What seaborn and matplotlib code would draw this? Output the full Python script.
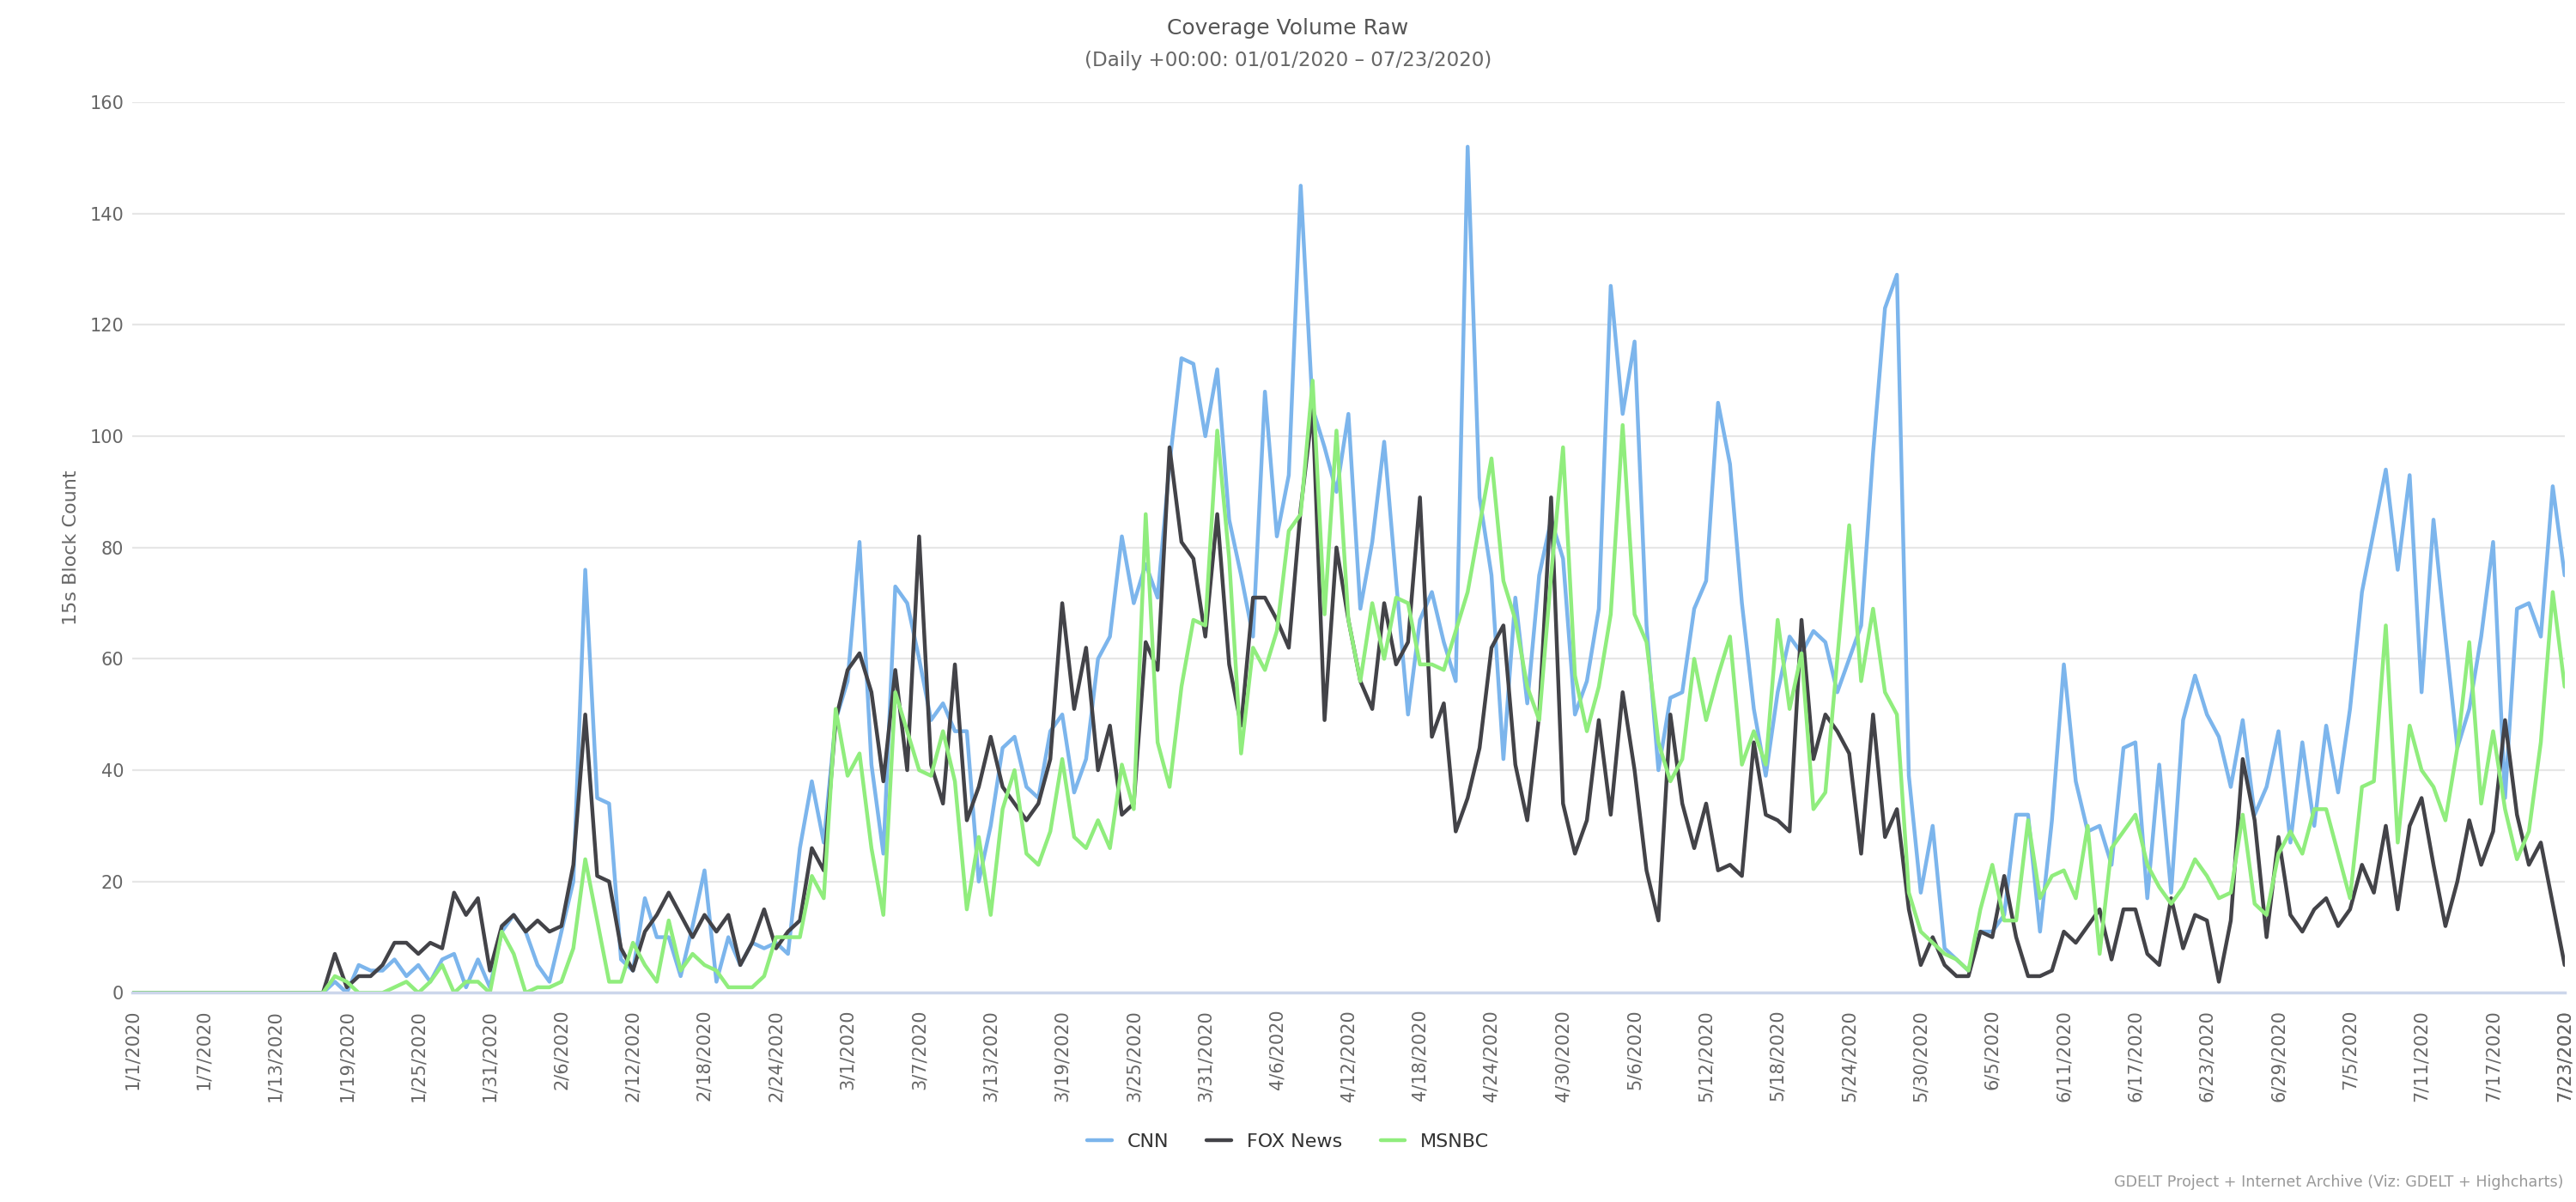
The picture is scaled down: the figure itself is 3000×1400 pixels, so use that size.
import matplotlib
matplotlib.use("Agg")
import matplotlib.pyplot as plt
import seaborn as sns
import pandas as pd
import numpy as np

dates = pd.date_range("2020-01-01", "2020-07-23", freq="D")
tick_labels = [f"{d.month}/{d.day}/{d.year}" for d in dates]

cnn = [0]*17 + [2,0,5,4,4,6,3,5,2,6,7,1,6,1,11,14,11,5,2,11,20,76,35,34,6,4,17,10,10,3,12,22,2,
    10,5,9,8,9,7,26,38,27,49,56,81,41,25,73,70,60,49,52,47,47,20,30,44,46,37,35,47,50,36,42,60,64,82,70,77,71,95,
    114,113,100,112,85,75,64,108,82,93,145,105,98,90,104,69,81,99,74,50,67,72,63,56,152,89,75,42,71,52,75,85,78,50,56,69,
    127,104,117,66,40,53,54,69,74,106,95,70,51,39,54,64,61,65,63,54,60,66,97,123,129,39,18,30,8,6,4,11,11,14,32,32,
    11,31,59,38,29,30,23,44,45,17,41,18,49,57,50,46,37,49,32,37,47,27,45,30,48,36,51,72,83,94,76,93,54,85,64,44,51,64,81,35,69,70,64,91,75]
fox = [0]*17 + [7,1,3,3,5,9,9,7,9,8,18,14,17,4,12,14,11,13,11,12,23,50,21,20,8,4,11,14,18,14,10,14,11,
    14,5,9,15,8,11,13,26,22,49,58,61,54,38,58,40,82,41,34,59,31,37,46,37,34,31,34,42,70,51,62,40,48,32,34,63,58,98,
    81,78,64,86,59,48,71,71,67,62,87,105,49,80,67,56,51,70,59,63,89,46,52,29,35,44,62,66,41,31,50,89,34,25,31,49,
    32,54,40,22,13,50,34,26,34,22,23,21,45,32,31,29,67,42,50,47,43,25,50,28,33,15,5,10,5,3,3,11,10,21,10,3,
    3,4,11,9,12,15,6,15,15,7,5,17,8,14,13,2,13,42,31,10,28,14,11,15,17,12,15,23,18,30,15,30,35,23,12,20,31,23,29,49,32,23,27,16,5]
msnbc = [0]*17 + [3,2,0,0,0,1,2,0,2,5,0,2,2,0,11,7,0,1,1,2,8,24,13,2,2,9,5,2,13,4,7,5,4,
    1,1,1,3,10,10,10,21,17,51,39,43,26,14,54,47,40,39,47,38,15,28,14,33,40,25,23,29,42,28,26,31,26,41,33,86,45,37,
    55,67,66,101,78,43,62,58,65,83,86,110,68,101,67,56,70,60,71,70,59,59,58,65,72,84,96,74,67,55,49,75,98,57,47,55,
    68,102,68,63,45,38,42,60,49,57,64,41,47,41,67,51,61,33,36,60,84,56,69,54,50,18,11,9,7,6,4,15,23,13,13,31,
    17,21,22,17,30,7,26,29,32,23,19,16,19,24,21,17,18,32,16,14,25,29,25,33,33,25,17,37,38,66,27,48,40,37,31,44,63,34,47,33,24,29,45,72,55]

series_names = ["CNN", "FOX News", "MSNBC"]
colors = ["#7cb5ec", "#434348", "#90ed7d"]

idx = np.arange(len(dates))
df = pd.concat([
    pd.DataFrame({"day": idx, "value": vals, "network": name})
    for name, vals in zip(series_names, [cnn, fox, msnbc])
])

sns.set_theme(style="white")
plt.rcParams['font.family'] = ['DejaVu Sans']

fig = plt.figure(figsize=(15, 7), dpi=200)
ax = fig.add_axes([0.0513, 0.174, 0.9443, 0.741])
sns.lineplot(data=df, x="day", y="value", hue="network", palette=colors,
             hue_order=series_names, linewidth=1.6, ax=ax, legend=False)

ax.set_xlim(0, len(dates) - 1)
ax.set_ylim(0, 160)
ax.set_yticks(range(0, 161, 20))
ax.yaxis.grid(True, color="#e6e6e6", linewidth=0.8)
ax.xaxis.grid(False)
ax.set_axisbelow(True)
ticks = list(range(0, len(dates), 6)) + [len(dates) - 1]
ax.set_xticks(ticks)
ax.set_xticklabels([tick_labels[t] for t in ticks], rotation=90, fontsize=7.5, color="#666666")
ax.tick_params(axis="y", labelsize=7.5, labelcolor="#666666", length=0)
ax.tick_params(axis="x", length=4, color="#ccd6eb", width=0.8, pad=3)
for s in ["top", "right", "left"]:
    ax.spines[s].set_visible(False)
ax.spines["bottom"].set_color("#ccd6eb")
ax.set_xlabel("")
ax.set_ylabel("15s Block Count", fontsize=8, color="#666666")

fig.text(0.5, 0.985, "Coverage Volume Raw", ha="center", va="top", fontsize=9, color="#555555")
fig.text(0.5, 0.958, "(Daily +00:00: 01/01/2020 – 07/23/2020)", ha="center", va="top", fontsize=8.3, color="#666666")

from matplotlib.lines import Line2D
handles = [Line2D([0], [0], color=c, lw=1.6) for c in colors]
fig.legend(handles, series_names, loc="center", bbox_to_anchor=(0.5, 0.05), ncol=3, frameon=False,
           fontsize=8, handlelength=1.3, columnspacing=2.0, labelcolor="#333333")
fig.text(0.995, 0.01, "GDELT Project + Internet Archive (Viz: GDELT + Highcharts)", ha="right", va="bottom",
         fontsize=6.3, color="#999999")

fig.savefig("out.png", dpi=200)
